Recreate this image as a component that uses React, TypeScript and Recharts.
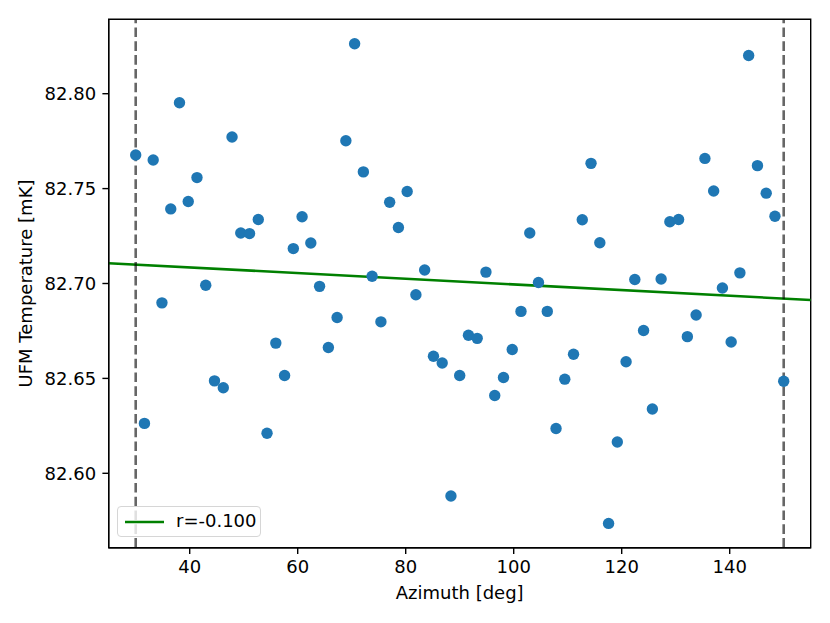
import React from "react";
import {
  ComposedChart,
  Scatter,
  XAxis,
  YAxis,
  ReferenceLine,
  ReferenceArea,
  Label,
} from "recharts";

// azimuth of each sample [deg]
const azimuth = [
  30.0, 31.62, 33.24, 34.86, 36.49, 38.11, 39.73, 41.35, 42.97, 44.59,
  46.22, 47.84, 49.46, 51.08, 52.7, 54.32, 55.95, 57.57, 59.19, 60.81,
  62.43, 64.05, 65.68, 67.3, 68.92, 70.54, 72.16, 73.78, 75.41, 77.03,
  78.65, 80.27, 81.89, 83.51, 85.14, 86.76, 88.38, 90.0, 91.62, 93.24,
  94.86, 96.49, 98.11, 99.73, 101.35, 102.97, 104.59, 106.22, 107.84, 109.46,
  111.08, 112.7, 114.32, 115.95, 117.57, 119.19, 120.81, 122.43, 124.05, 125.68,
  127.3, 128.92, 130.54, 132.16, 133.78, 135.41, 137.03, 138.65, 140.27, 141.89,
  143.51, 145.14, 146.76, 148.38, 150.0,
];

// UFM temperature [mK]
const temperature = [
  82.7677, 82.6263, 82.7651, 82.6898, 82.7393, 82.7952, 82.7432, 82.7558, 82.6991, 82.6487,
  82.6451, 82.7772, 82.7266, 82.7263, 82.7337, 82.6211, 82.6686, 82.6515, 82.7184, 82.7352,
  82.7213, 82.6985, 82.6663, 82.6821, 82.7752, 82.8263, 82.7588, 82.7038, 82.6798, 82.7428,
  82.7295, 82.7485, 82.6941, 82.7071, 82.6617, 82.6581, 82.588, 82.6515, 82.6727, 82.6711,
  82.706, 82.641, 82.6505, 82.6652, 82.6853, 82.7266, 82.7005, 82.6853, 82.6236, 82.6496,
  82.6627, 82.7336, 82.7633, 82.7215, 82.5736, 82.6165, 82.6588, 82.7021, 82.6752, 82.6339,
  82.7024, 82.7325, 82.7337, 82.672, 82.6834, 82.7659, 82.7487, 82.6976, 82.6692, 82.7056,
  82.8201, 82.7621, 82.7476, 82.7354, 82.6485,
];

// linear fit, read at the plot edges
const fitAzimuth = [25, 155];
const fitTemperature = [82.7107, 82.6913];
const fitLabel = "r=-0.100";

// scan boundaries
const boundaries = [30, 150];

const xTicks = [40, 60, 80, 100, 120, 140];
const yTicks = [82.6, 82.65, 82.7, 82.75, 82.8];
const xDomain = [25, 155];
const yDomain = [82.5608, 82.8392];

const FONT = "DejaVu Sans";

export default function App() {
  const points = azimuth.map((x, i) => ({ x, y: temperature[i] }));
  const tickStyle = { fill: "#000", fontSize: 18, fontFamily: FONT };

  return (
    <div
      style={{
        position: "absolute",
        left: 0,
        top: 0,
        width: 830,
        height: 623,
        background: "#fff",
        fontFamily: FONT,
      }}
    >
      <ComposedChart
        width={830}
        height={623}
        margin={{ top: 19.3, right: 19.3, bottom: 0, left: 0 }}
      >
        <XAxis
          type="number"
          dataKey="x"
          domain={xDomain}
          ticks={xTicks}
          allowDataOverflow
          height={75.3}
          stroke="#000"
          strokeWidth={1.4}
          tickSize={6.3}
          tickMargin={6.3}
          tick={tickStyle}
        >
          <Label
            value="Azimuth [deg]"
            position="insideBottom"
            offset={24}
            style={{ fill: "#000", fontSize: 18, fontFamily: FONT }}
          />
        </XAxis>
        <YAxis
          type="number"
          dataKey="y"
          domain={yDomain}
          ticks={yTicks}
          allowDataOverflow
          width={108.7}
          stroke="#000"
          strokeWidth={1.4}
          tickSize={6.3}
          tickMargin={6.3}
          tick={tickStyle}
          tickFormatter={(v: number) => v.toFixed(2)}
        >
          <Label
            value="UFM Temperature [mK]"
            angle={-90}
            position="insideLeft"
            offset={25.6}
            style={{ fill: "#000", fontSize: 18, fontFamily: FONT, textAnchor: "middle" }}
          />
        </YAxis>
        <Scatter
          data={points}
          isAnimationActive={false}
          shape={(p: any) => <circle cx={p.cx} cy={p.cy} r={5.7} fill="#1f77b4" />}
        />
        <ReferenceLine
          segment={[
            { x: fitAzimuth[0], y: fitTemperature[0] },
            { x: fitAzimuth[1], y: fitTemperature[1] },
          ]}
          stroke="#008000"
          strokeWidth={2.6}
        />
        {boundaries.map((b) => (
          <ReferenceLine
            key={b}
            x={b}
            stroke="#000"
            strokeOpacity={0.6}
            strokeWidth={2.6}
            strokeDasharray="9.6 4.2"
          />
        ))}
        <ReferenceArea
          x1={xDomain[0]}
          x2={xDomain[1]}
          y1={yDomain[0]}
          y2={yDomain[1]}
          fill="none"
          stroke="#000"
          strokeWidth={1.4}
          ifOverflow="visible"
        />
      </ComposedChart>

      <div
        style={{
          position: "absolute",
          left: 117,
          top: 506,
          width: 144,
          height: 31,
          boxSizing: "border-box",
          border: "1px solid #d6d6d6",
          borderRadius: 4,
          background: "rgba(255,255,255,0.8)",
        }}
      >
        <svg
          width={40}
          height={6}
          style={{ position: "absolute", left: 7, top: 12 }}
        >
          <line x1={0} y1={3} x2={39} y2={3} stroke="#008000" strokeWidth={2.6} />
        </svg>
        <span
          style={{
            position: "absolute",
            left: 58,
            top: 3,
            fontSize: 18,
            lineHeight: "22px",
            color: "#000",
            whiteSpace: "nowrap",
          }}
        >
          {fitLabel}
        </span>
      </div>
    </div>
  );
}
